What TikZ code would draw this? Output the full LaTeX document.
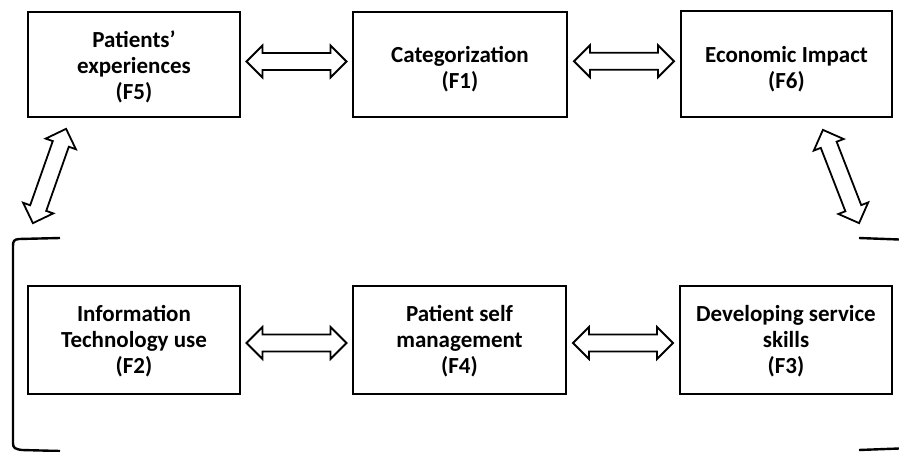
\documentclass[tikz,border=0pt]{standalone}
\usepackage{fontspec}
\setmainfont{Carlito}
\usetikzlibrary{calc}
\begin{document}
\begin{tikzpicture}[x=1pt,y=1pt,
  box/.style={draw,line width=2.2pt,minimum width=212pt,inner sep=0pt},
  boxtext/.style={inner sep=0pt,align=center,font=\fontsize{23}{26}\selectfont\bfseries},
  dblarr/.pic={\draw[line width=1.8pt,line join=miter,fill=white]
     (-50,0) -- (-34,16) -- (-34,8.5) -- (34,8.5) -- (34,16) -- (50,0)
     -- (34,-16) -- (34,-8.5) -- (-34,-8.5) -- (-34,-16) -- cycle;},
  brk/.style={line width=2.4pt}]
\useasboundingbox (0,0) rectangle (899,-452);
\node[box,minimum height=105pt] (f5) at (134,-64.5) {};
\node[box,minimum height=105pt,minimum width=214pt] (f1) at (460,-64.5) {};
\node[box,minimum height=106pt,minimum width=211pt] (f6) at (786.5,-64) {};
\node[box,minimum height=108pt] (f2) at (134,-340) {};
\node[box,minimum height=108pt,minimum width=213pt] (f4) at (459.5,-340) {};
\node[box,minimum height=108pt] (f3) at (786,-340) {};
\node[boxtext] (t5) at ($(f5)+(0,-2.5)$) {Patients’\\experiences\\(F5)};
\node[boxtext] (t1) at ($(f1)+(0,-5)$) {Categorization\\(F1)};
\node[boxtext] (t6) at ($(f6)+(0,-5)$) {Economic Impact\\(F6)};
\node[boxtext] (t2) at ($(f2)+(0,-1.5)$) {Information\\Technology use\\(F2)};
\node[boxtext] (t4) at ($(f4)+(0,-1.5)$) {Patient self\\management\\(F4)};
\node[boxtext] (t3) at ($(f3)+(0,-1.5)$) {Developing service\\skills\\(F3)};
% horizontal double arrows
\pic at ($(f5.east)!0.5!(f1.west)+(0,3)$) {dblarr};
\pic at ($(f1.east)!0.5!(f6.west)+(0,3)$) {dblarr};
\pic at ($(f2.east)!0.5!(f4.west)+(0,-3)$) {dblarr};
\pic at ($(f4.east)!0.5!(f3.west)+(0,-3)$) {dblarr};
% diagonal double arrows
\pic[rotate=70.6] at (49.5,-176) {dblarr};
\pic[rotate=-68.8] at (841,-176.5) {dblarr};
% brackets
\coordinate (lt) at (60,-238);
\coordinate (lb) at (60,-451);
\draw[brk] (lt) -- (19,-239) .. controls (14,-239.5) and (13,-241) .. (13,-246)
  -- (13,-443) .. controls (13,-448) and (15,-449) .. (22,-450) -- (lb);
\coordinate (rt) at (859,-238);
\coordinate (rb) at (859,-450);
\draw[brk] (rt) -- (899,-239.5);
\draw[brk] (rb) -- (899,-448.5);
\end{tikzpicture}
\end{document}
